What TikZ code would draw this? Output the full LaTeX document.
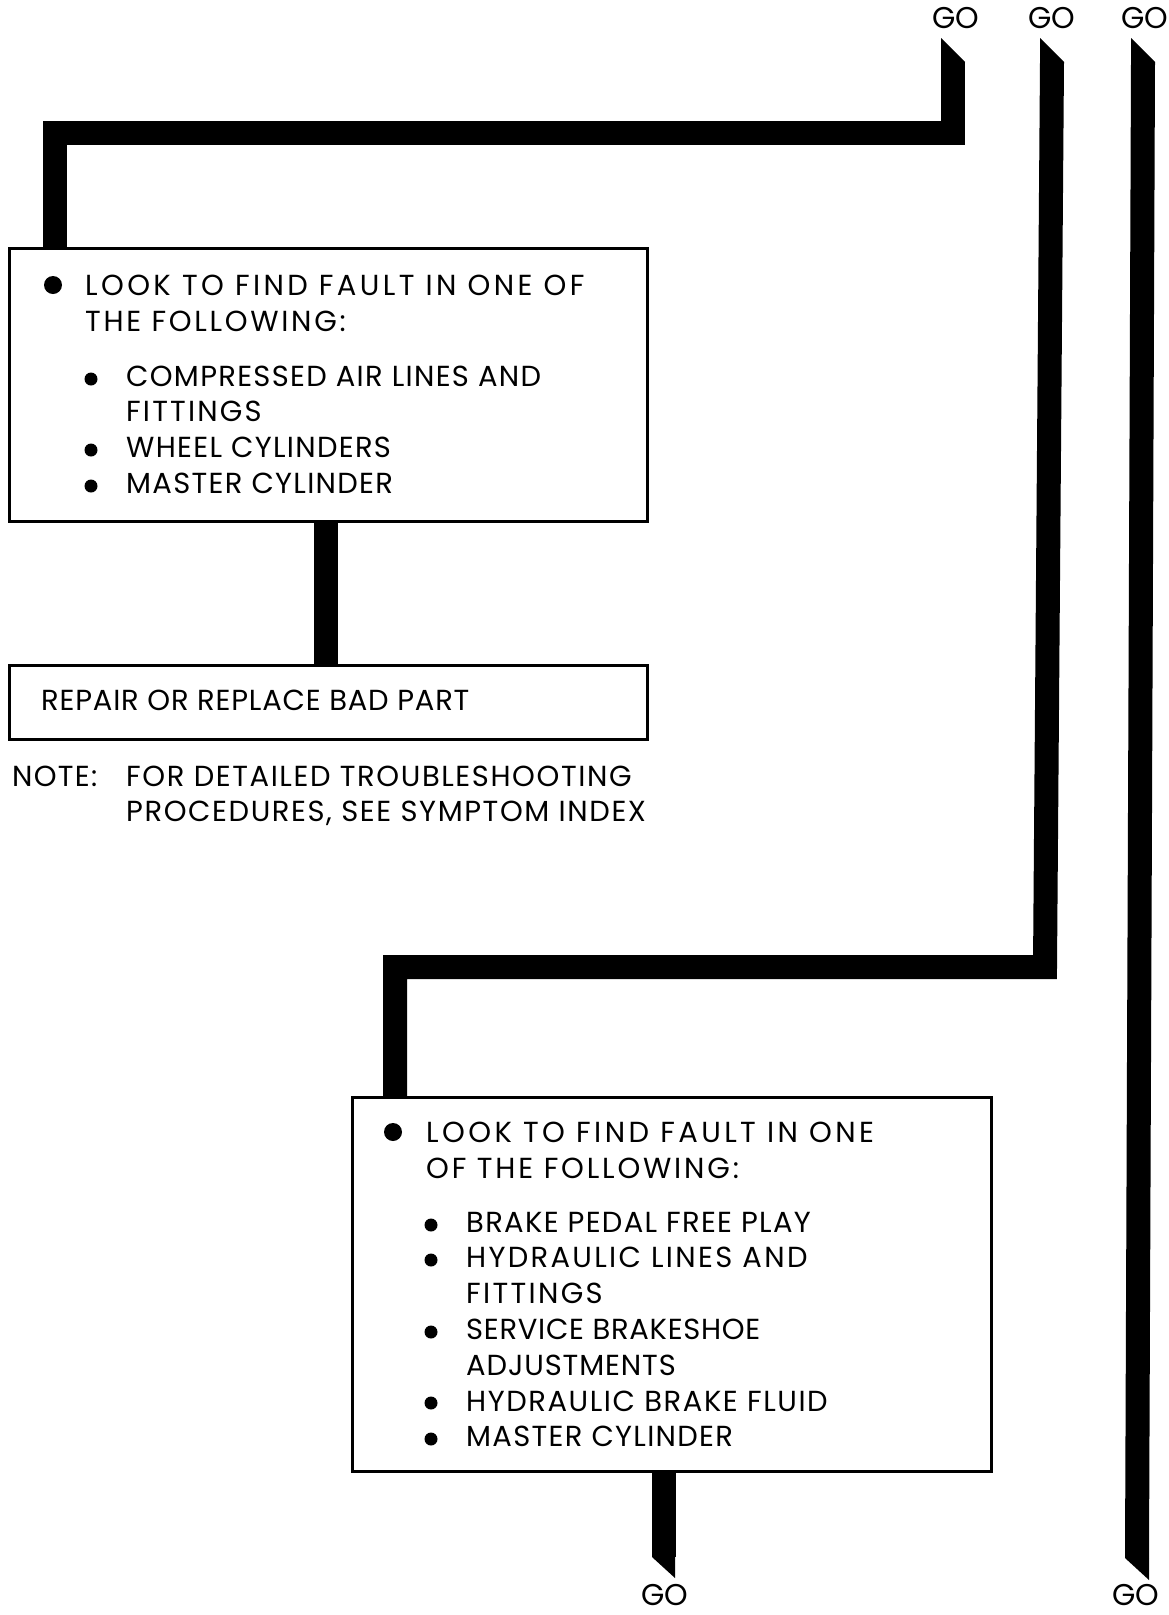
\documentclass[tikz,border=0pt]{standalone}
\usepackage{fontspec}
\setmainfont{Poppins}[LetterSpace=4.5]
\begin{document}
\begin{tikzpicture}[x=1pt,y=-1pt,
  bar/.style={line width=24pt, line join=miter, line cap=butt},
  box/.style={draw, line width=3pt, inner sep=0pt, anchor=north west},
  txt/.style={anchor=base west, inner sep=0pt, font=\fontsize{29}{35}\selectfont},
  ls/.style={font=\fontsize{29}{35}\selectfont\addfontfeature{LetterSpace=#1}},
  go/.style={anchor=base, inner sep=0pt, font=\fontsize{30}{34}\selectfont\addfontfeature{LetterSpace=0}},
  bigdot/.style={circle, fill, inner sep=0pt, minimum size=18pt},
  dot/.style={circle, fill, inner sep=0pt, minimum size=13pt},
]
\useasboundingbox (0,0) rectangle (1169,1615);

% boxes
\node[box, minimum width=638pt, minimum height=273pt] (b1) at (8,247) {};
\node[box, minimum width=638pt, minimum height=74pt] (b2) at (8,664) {};
\node[box, minimum width=639pt, minimum height=374pt] (b3) at (351,1096) {};

% GO labels
\node[go] (gt1) at (956,28) {GO};
\node[go] (gt2) at (1052,28) {GO};
\node[go] (gt3) at (1145,28) {GO};
\node[go] (gb1) at (665,1605) {GO};
\node[go] (gb2) at (1136,1605) {GO};

% coordinates
\coordinate (t1) at (953,62);
\coordinate (t2) at (1052,62);
\coordinate (k2) at (1045,967);
\coordinate (t3) at (1143,62);
\coordinate (e3) at (1137,1558);
\coordinate (j1) at (55,133);
\coordinate (j2) at (395,967);
\coordinate (c12) at (326,0);
\coordinate (c3) at (663.5,0);
\coordinate (e4) at (663.5,1557);

% bar 1
\fill (941,38) -- (965,62) -- (941,62) -- cycle;
\draw[bar] (t1) |- (j1) -- (j1 |- b1.north);
% bar 2
\fill (1040,38) -- (1064,62) -- (1040,62) -- cycle;
\draw[bar] (t2) -- (k2) -- (j2) -- (j2 |- b3.north);
% bar 3
\fill (1131,38) -- (1155,62) -- (1131,62) -- cycle;
\draw[bar] (t3) -- (e3);
\fill (1125,1558) -- (1149,1558) -- (1149,1580) -- cycle;
% box1 to box2
\draw[bar] (c12 |- b1.south) -- (c12 |- b2.north);
% box3 out
\draw[bar] (c3 |- b3.south) -- (e4);
\fill (652,1557) -- (675,1557) -- (675,1578) -- cycle;

% box 1 text
\node[bigdot] (d10) at (53,285) {};
\node[txt, ls=11.7] (l11) at (85,295) {LOOK TO FIND FAULT IN ONE OF};
\node[txt, ls=9.3] (l12) at (85,331) {THE FOLLOWING:};
\node[dot] (d11) at (91,379) {};
\node[txt] (l13) at (126,386) {COMPRESSED AIR LINES AND};
\node[txt, ls=7.5] (l14) at (126,421) {FITTINGS};
\node[dot] (d12) at (91,450) {};
\node[txt] (l15) at (126,457) {WHEEL CYLINDERS};
\node[dot] (d13) at (91,486) {};
\node[txt] (l16) at (126,493) {MASTER CYLINDER};

% box 2 text
\node[txt, ls=2.8] (l21) at (41,710) {REPAIR OR REPLACE BAD PART};

% note
\node[txt] (n1) at (12,786) {NOTE:};
\node[txt, ls=5.5] (n2) at (126,786) {FOR DETAILED TROUBLESHOOTING};
\node[txt, ls=5.5] (n3) at (126,821) {PROCEDURES, SEE SYMPTOM INDEX};

% box 3 text
\node[bigdot] (d30) at (393,1132) {};
\node[txt, ls=11.8] (l31) at (426,1142) {LOOK TO FIND FAULT IN ONE};
\node[txt, ls=9.7] (l32) at (426,1178) {OF THE FOLLOWING:};
\node[dot] (d31) at (431,1225) {};
\node[txt] (l33) at (466,1232) {BRAKE PEDAL FREE PLAY};
\node[dot] (d32) at (431,1260) {};
\node[txt, ls=8] (l34) at (466,1267) {HYDRAULIC LINES AND};
\node[txt, ls=8] (l35) at (466,1303) {FITTINGS};
\node[dot] (d33) at (431,1332) {};
\node[txt, ls=2.5] (l36) at (466,1339) {SERVICE BRAKESHOE};
\node[txt, ls=3.1] (l37) at (466,1375) {ADJUSTMENTS};
\node[dot] (d34) at (431,1403) {};
\node[txt, ls=5.4] (l38) at (466,1411) {HYDRAULIC BRAKE FLUID};
\node[dot] (d35) at (431,1439) {};
\node[txt] (l39) at (466,1446) {MASTER CYLINDER};
\end{tikzpicture}
\end{document}
